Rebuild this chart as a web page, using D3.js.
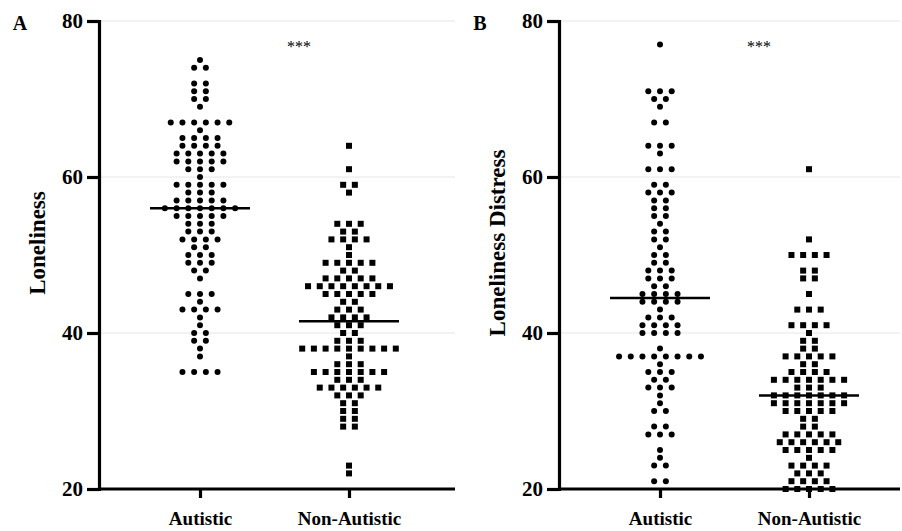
<!DOCTYPE html>
<html>
<head>
<meta charset="utf-8">
<script src="https://cdn.jsdelivr.net/npm/d3@7"></script>
<style>
  body { margin: 0; background: #fff; }
  svg { display: block; }
  text { font-family: "Liberation Serif", "Times New Roman", serif; }
</style>
</head>
<body>
<svg width="902" height="531"></svg>
<script>
// groups on the x axis
var groups = ["Autistic", "Non-Autistic"];
var yTicks = [20, 40, 60, 80];

// Panel A: Loneliness - score values and how many people had each
var lonAutVals = [75, 74, 72, 71, 70, 69, 67, 66, 65, 64, 63, 62, 61, 60, 59, 58, 57, 56, 55, 54, 53, 52, 51, 50, 49, 48, 47, 45, 44, 43, 42, 41, 40, 39, 38, 37, 35];
var lonAutCounts = [1, 2, 2, 2, 2, 1, 6, 1, 4, 4, 5, 5, 3, 1, 5, 3, 5, 7, 5, 3, 3, 4, 2, 3, 3, 2, 1, 3, 1, 4, 1, 1, 2, 2, 1, 1, 4];
var lonNonVals = [64, 61, 59, 58, 54, 53, 52, 51, 50, 49, 48, 47, 46, 45, 44, 43, 42, 41, 40, 39, 38, 37, 36, 35, 34, 33, 32, 31, 30, 29, 28, 23, 22];
var lonNonCounts = [1, 1, 2, 1, 3, 2, 4, 1, 1, 5, 2, 5, 8, 5, 2, 3, 4, 3, 2, 3, 9, 1, 3, 7, 3, 6, 3, 2, 2, 2, 2, 1, 1];

// Panel B: Loneliness Distress
var disAutVals = [77, 71, 70, 69, 67, 64, 63, 61, 59, 58, 57, 56, 55, 54, 53, 52, 51, 50, 49, 48, 47, 46, 45, 44, 43, 42, 41, 40, 38, 37, 36, 35, 34, 33, 32, 31, 30, 28, 27, 25, 24, 23, 21];
var disAutCounts = [1, 3, 2, 1, 2, 3, 1, 3, 2, 3, 2, 2, 2, 1, 2, 2, 1, 2, 2, 3, 3, 2, 4, 4, 1, 3, 4, 4, 1, 8, 1, 3, 2, 3, 1, 1, 2, 2, 3, 1, 1, 2, 2];
var disNonVals = [61, 52, 50, 48, 47, 45, 43, 41, 40, 39, 38, 37, 36, 35, 34, 33, 32, 31, 30, 29, 28, 27, 26, 25, 24, 23, 22, 21, 20];
var disNonCounts = [1, 1, 4, 2, 2, 1, 3, 4, 1, 2, 2, 5, 2, 4, 7, 3, 7, 7, 5, 2, 2, 5, 6, 5, 1, 4, 3, 4, 5];

var svg = d3.select("svg");

var y = d3.scaleLinear().domain([20, 80]).range([489, 21]);
var dotStep = 11.7;

// turn value/count lists into one point per person, spread along the row
function expand(vals, counts) {
    var pts = [];
    vals.forEach(function (v, i) {
        var n = counts[i];
        for (var k = 0; k < n; k++) {
            pts.push({ value: v, offset: (k - (n - 1) / 2) * dotStep });
        }
    });
    return pts;
}

function draw_panel(opt) {
    var g = svg.append("g");
    var x0 = opt.left, x1 = opt.right;

    var x = d3.scalePoint()
        .domain(groups)
        .range([x0 + 101, x0 + 250]);

    // light grid lines
    g.selectAll(".grid")
        .data(yTicks.slice(1))
        .enter().append("line")
        .attr("x1", x0).attr("x2", x1)
        .attr("y1", function (d) { return y(d); })
        .attr("y2", function (d) { return y(d); })
        .attr("stroke", "#e6e6e6")
        .attr("stroke-width", 1);

    var series = [
        { group: groups[0], pts: expand(opt.autVals, opt.autCounts), shape: "circle" },
        { group: groups[1], pts: expand(opt.nonVals, opt.nonCounts), shape: "square" }
    ];

    series.forEach(function (s) {
        var cx = x(s.group);
        if (s.shape === "circle") {
            g.selectAll(null)
                .data(s.pts)
                .enter().append("circle")
                .attr("cx", function (d) { return cx + d.offset; })
                .attr("cy", function (d) { return y(d.value); })
                .attr("r", 3)
                .attr("fill", "#000");
        } else {
            g.selectAll(null)
                .data(s.pts)
                .enter().append("rect")
                .attr("x", function (d) { return cx + d.offset - 3; })
                .attr("y", function (d) { return y(d.value) - 3; })
                .attr("width", 6)
                .attr("height", 6)
                .attr("fill", "#000");
        }
        // median line
        var med = d3.median(s.pts, function (d) { return d.value; });
        g.append("line")
            .attr("x1", cx - 50).attr("x2", cx + 50)
            .attr("y1", y(med)).attr("y2", y(med))
            .attr("stroke", "#000")
            .attr("stroke-width", 2.5);
    });

    // y axis
    var yAxis = d3.axisLeft(y)
        .tickValues(yTicks)
        .tickSize(12)
        .tickSizeOuter(0)
        .tickPadding(4);
    var ya = g.append("g")
        .attr("transform", "translate(" + x0 + ",0)")
        .call(yAxis);
    ya.select(".domain").attr("stroke-width", 3.2).attr("stroke-linecap", "square");
    ya.selectAll(".tick line").attr("stroke-width", 3.2);
    ya.selectAll(".tick text")
        .attr("font-family", "Liberation Serif")
        .attr("font-size", 21)
        .attr("font-weight", "bold")
        .attr("fill", "#000");

    // x axis
    var xAxis = d3.axisBottom(x)
        .tickSize(9)
        .tickSizeOuter(0)
        .tickPadding(14);
    var xa = g.append("g")
        .attr("transform", "translate(0," + y(20) + ")")
        .call(xAxis);
    xa.select(".domain")
        .attr("d", "M" + x0 + ",0H" + x1)
        .attr("stroke-width", 3.2);
    xa.selectAll(".tick line").attr("stroke-width", 3.2);
    xa.selectAll(".tick text")
        .attr("font-family", "Liberation Serif")
        .attr("font-size", 19)
        .attr("font-weight", "bold")
        .attr("fill", "#000");

    // axis title
    g.append("text")
        .attr("transform", "translate(" + (x0 - 54) + ",243) rotate(-90)")
        .attr("text-anchor", "middle")
        .attr("font-size", 23)
        .attr("font-weight", "bold")
        .text(opt.title);

    // panel letter
    g.append("text")
        .attr("x", x0 - 79)
        .attr("y", 30)
        .attr("text-anchor", "middle")
        .attr("font-size", 20)
        .attr("font-weight", "bold")
        .text(opt.letter);

    // significance
    g.append("text")
        .attr("x", x0 + 200)
        .attr("y", 52)
        .attr("text-anchor", "middle")
        .attr("font-size", 16)
        .text("***");
}

draw_panel({ left: 99, right: 455, letter: "A", title: "Loneliness",
    autVals: lonAutVals, autCounts: lonAutCounts, nonVals: lonNonVals, nonCounts: lonNonCounts });
draw_panel({ left: 559, right: 900, letter: "B", title: "Loneliness Distress",
    autVals: disAutVals, autCounts: disAutCounts, nonVals: disNonVals, nonCounts: disNonCounts });
</script>
</body>
</html>
